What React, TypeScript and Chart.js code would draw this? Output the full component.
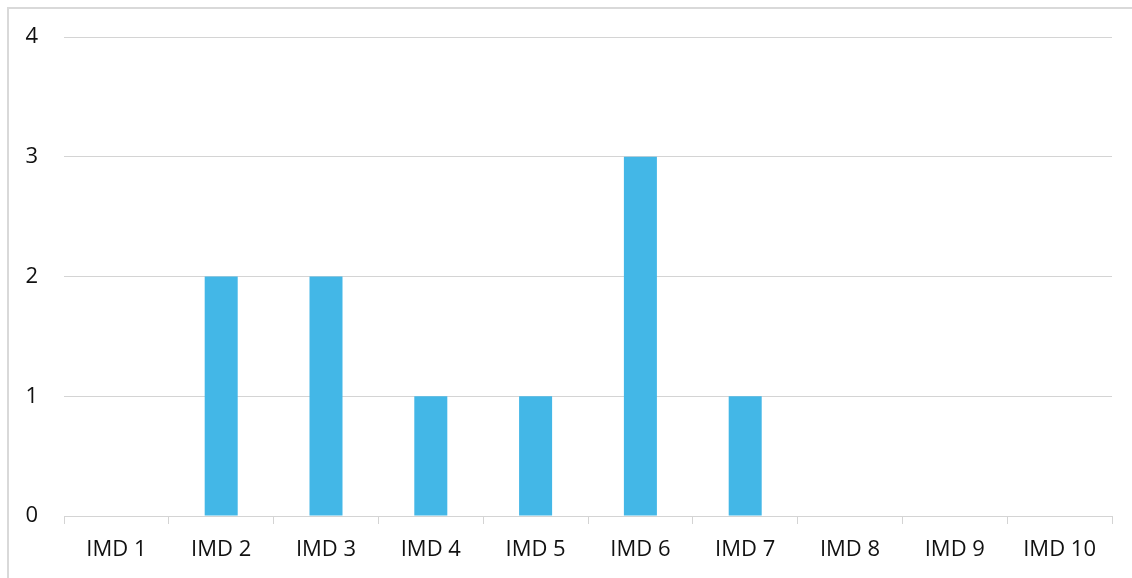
import React, { useEffect, useRef } from "react";
import { Chart, registerables } from "chart.js";

Chart.register(...registerables);

const categories = ["IMD 1", "IMD 2", "IMD 3", "IMD 4", "IMD 5", "IMD 6", "IMD 7", "IMD 8", "IMD 9", "IMD 10"];
const counts = [0, 2, 2, 1, 1, 3, 1, 0, 0, 0];
const yTicks = [0, 1, 2, 3, 4];

export default function App() {
  const ref = useRef<HTMLCanvasElement | null>(null);

  useEffect(() => {
    document.body.style.margin = "0";
    const canvas = ref.current;
    if (!canvas) return;
    const chart = new Chart(canvas, {
      type: "bar",
      data: {
        labels: categories,
        datasets: [
          {
            data: counts,
            backgroundColor: "#43b7e7",
            borderWidth: 0,
            categoryPercentage: 1,
            barPercentage: 0.315,
          },
        ],
      },
      options: {
        responsive: false,
        animation: false,
        devicePixelRatio: 1,
        layout: { padding: { left: 0, right: 20, top: 37, bottom: 0 } },
        plugins: { legend: { display: false }, tooltip: { enabled: false } },
        scales: {
          x: {
            grid: {
              display: true,
              drawOnChartArea: false,
              drawTicks: true,
              tickLength: 8,
              color: "#d4d4d4",
              lineWidth: 1,
            },
            border: { display: true, color: "#d4d4d4", width: 1 },
            ticks: {
              color: "#111111",
              font: { family: "'Open Sans'", size: 22 },
              padding: 13,
              maxRotation: 0,
              autoSkip: false,
            },
            afterFit: (scale: any) => {
              scale.height = 62;
              scale.paddingLeft = 0;
              scale.paddingRight = 0;
            },
          },
          y: {
            min: 0,
            max: 4,
            afterBuildTicks: (scale: any) => {
              scale.ticks = yTicks.map((v) => ({ value: v }));
            },
            grid: { color: "#d4d4d4", lineWidth: 1, drawTicks: false },
            border: { display: false },
            ticks: {
              color: "#111111",
              font: { family: "'Open Sans'", size: 22 },
              padding: 26,
            },
            afterFit: (scale: any) => {
              scale.width = 64;
              scale.paddingTop = 0;
              scale.paddingBottom = 0;
            },
          },
        },
      },
    });
    return () => chart.destroy();
  }, []);

  return (
    <div style={{ position: "relative", width: 1132, height: 578, overflow: "hidden" }}>
      <div
        style={{
          position: "absolute",
          left: 7,
          top: 7,
          width: 1200,
          height: 700,
          borderTop: "2px solid #d9d9d9",
          borderLeft: "2px solid #d9d9d9",
          boxSizing: "border-box",
        }}
      />
      <canvas
        ref={ref}
        width={1132}
        height={578}
        style={{ position: "absolute", left: 0, top: 0, width: 1132, height: 578 }}
      />
    </div>
  );
}
